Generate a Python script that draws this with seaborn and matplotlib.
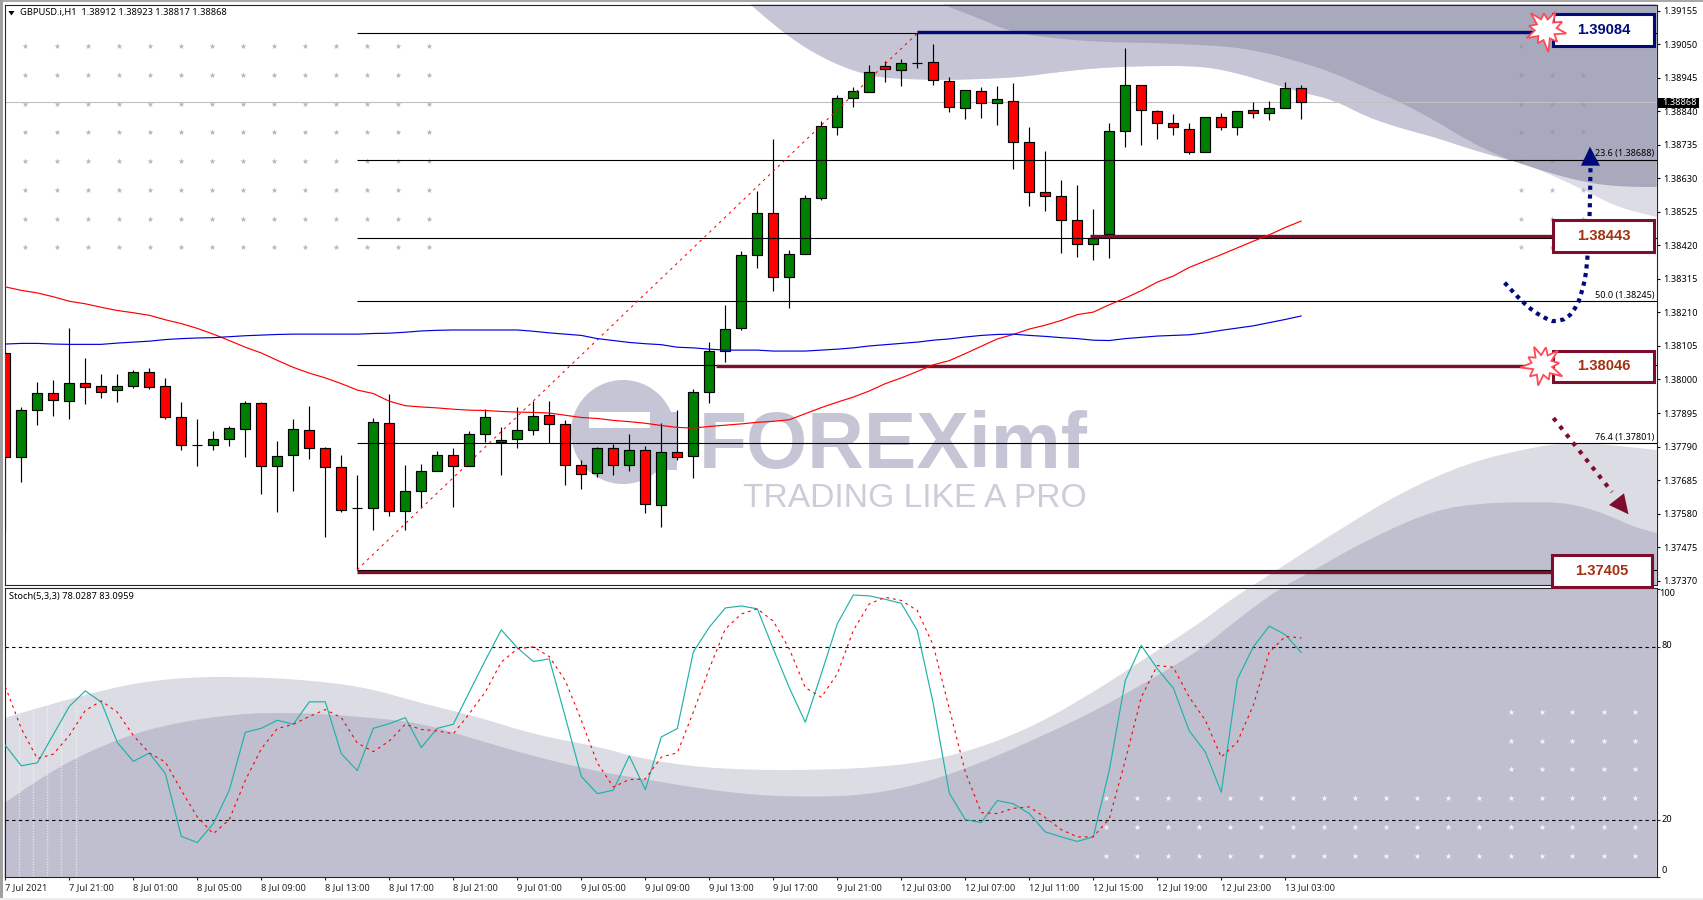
import numpy as np
import pandas as pd
import seaborn as sns
import matplotlib
matplotlib.use("Agg")
import matplotlib.pyplot as plt
from matplotlib.patches import Polygon, Rectangle, Circle

# ---------- values (prices in 1e-5 points) ----------
open_pts = [138083,137757,137904,137958,137933,137989,137979,137967,137979,138023,
            137979,137883,137795,137795,137814,137845,137926,137729,137764,137842,
            137786,137726,137597,137598,137864,137588,137651,137714,137764,137729,
            137829,137803,137814,137842,137889,137861,137732,137707,137786,137732,
            137779,137607,137773,137761,137961,138089,138161,138389,138521,138321,
            138393,138567,138790,138880,138900,138981,138968,138990,138994,138934,
            138850,138903,138865,138871,138743,138587,138574,138499,138424,138455,
            138778,138922,138840,138803,138784,138712,138822,138790,138843,138833,
            138850,138912]
high_pts = [138086,137914,137993,137998,138162,138068,138018,138018,138030,138037,
            138005,137930,137877,137840,137854,137934,137929,137808,137877,137918,
            137790,137765,137702,137879,137954,137733,137735,137777,137787,137839,
            137908,137851,137914,137933,137934,137874,137749,137789,137799,137830,
            137793,137864,137905,137971,138117,138234,138402,138591,138753,138406,
            138577,138809,138891,138915,138984,138997,139003,139084,139051,138947,
            138906,138915,138919,138929,138791,138716,138625,138610,138535,138803,
            139038,138922,138844,138832,138803,138822,138834,138840,138868,138871,
            138931,138923]
low_pts = [137525,137678,137859,137887,137875,137924,137943,137928,137972,137969,
           137875,137778,137730,137778,137793,137758,137643,137584,137652,137752,
           137508,137586,137405,137530,137574,137530,137602,137713,137602,137728,
           137805,137702,137787,137827,137801,137671,137658,137694,137702,137715,
           137583,137539,137749,137693,137927,138054,138156,138348,138278,138223,
           138392,138561,138766,138854,138899,138930,138919,138976,138923,138836,
           138816,138819,138797,138660,138544,138528,138397,138385,138375,138381,
           138729,138735,138754,138766,138707,138711,138782,138766,138819,138813,
           138850,138817]
close_pts = [137757,137904,137958,137936,137989,137978,137961,137979,138023,137978,
             137883,137794,137795,137814,137848,137926,137729,137761,137845,137786,
             137726,137592,137597,137867,137588,137651,137714,137764,137729,137829,
             137883,137811,137842,137886,137861,137732,137704,137786,137732,137779,
             137610,137773,137757,137961,138089,138158,138390,138521,138321,138393,
             138568,138793,138881,138903,138962,138972,138990,138990,138937,138853,
             138906,138865,138878,138743,138587,138574,138499,138424,138443,138778,
             138922,138843,138803,138790,138712,138822,138790,138840,138833,138850,
             138912,138868]
ma_red_pts = [138290,138279,138271,138259,138245,138237,138226,138216,138209,138201,
              138187,138175,138160,138142,138122,138101,138083,138060,138038,138020,
              138005,137987,137967,137956,137932,137918,137914,137911,137907,137904,
              137903,137900,137898,137897,137895,137888,137881,137878,137872,137868,
              137863,137856,137850,137848,137853,137857,137861,137866,137869,137874,
              137893,137912,137929,137945,137964,137987,138005,138025,138046,138059,
              138081,138104,138127,138141,138158,138170,138185,138203,138211,138234,
              138255,138278,138305,138324,138351,138371,138391,138412,138433,138453,
              138476,138496]
ma_blue_pts = [138111,138113,138113,138111,138110,138110,138110,138114,138117,138120,
               138125,138128,138130,138131,138134,138137,138139,138141,138142,138142,
               138142,138142,138142,138144,138145,138148,138152,138154,138155,138155,
               138155,138155,138155,138151,138146,138142,138138,138128,138122,138116,
               138112,138109,138101,138099,138095,138092,138092,138092,138089,138089,
               138089,138092,138095,138099,138105,138109,138113,138117,138123,138127,
               138133,138138,138141,138142,138138,138135,138131,138128,138123,138122,
               138128,138132,138136,138138,138140,138146,138154,138161,138168,138178,
               138188,138199]
stoch_k = [45.8,38.7,39.7,49.5,59.3,64.7,60.8,46.8,40.2,43.1,36.0,14.2,12.0,18.6,30.2,
           50.3,51.7,54.5,53.1,60.9,60.9,42.9,37.0,51.7,53.3,55.4,45.0,51.7,53.1,64.3,
           75.3,85.9,79.7,74.9,75.8,55.6,35.0,29.0,30.2,42.1,30.4,48.7,51.6,78.2,86.8,
           93.5,94.2,93.2,79.3,65.8,53.8,70.6,88.0,98.0,97.7,96.5,95.1,85.7,60.2,29.2,
           20.0,19.0,26.6,25.5,22.1,15.7,14.0,12.4,14.0,37.1,68.3,80.5,72.4,65.7,50.8,
           43.5,29.5,68.7,80.0,87.2,84.2,78.0]
stoch_d = [66.2,51.6,41.2,42.7,49.2,57.9,61.2,57.3,49.2,43.1,40.0,30.2,20.9,15.1,20.0,
           33.6,44.6,51.6,53.1,55.8,58.2,55.4,46.6,43.6,47.3,53.1,51.3,50.8,49.8,56.8,
           64.3,74.7,79.3,80.0,76.6,68.3,54.5,39.7,31.3,33.9,34.1,41.7,43.2,57.3,72.4,
           86.2,91.4,93.2,88.9,79.3,65.8,62.5,70.6,85.7,94.9,97.2,96.1,92.6,80.5,58.5,
           36.5,22.4,22.1,23.9,24.4,20.7,16.5,14.0,14.0,20.3,40.6,62.5,73.5,72.9,62.5,
           54.5,41.7,46.9,59.7,78.2,83.6,83.1]

price_ticks = ["1.39155","1.39050","1.38945","1.38840","1.38735","1.38630","1.38525",
               "1.38420","1.38315","1.38210","1.38105","1.38000","1.37895","1.37790",
               "1.37685","1.37580","1.37475","1.37370"]
time_tick_bars = [0,4,8,12,16,20,24,28,32,36,40,44,48,52,56,60,64,68,72,76,80]
time_tick_labels = ["7 Jul 2021","7 Jul 21:00","8 Jul 01:00","8 Jul 05:00","8 Jul 09:00",
                    "8 Jul 13:00","8 Jul 17:00","8 Jul 21:00","9 Jul 01:00","9 Jul 05:00",
                    "9 Jul 09:00","9 Jul 13:00","9 Jul 17:00","9 Jul 21:00","12 Jul 03:00",
                    "12 Jul 07:00","12 Jul 11:00","12 Jul 15:00","12 Jul 19:00","12 Jul 23:00",
                    "13 Jul 03:00"]
fib_levels = [1.39084,1.38688,1.38443,1.38245,1.38045,1.37801,1.37405]
fib_labels = {"23.6":1.38688,"50.0":1.38245,"76.4":1.37801}
key_levels = [("1.39084",1.39089,"navy"),("1.38443",1.38448,"red"),
              ("1.38046",1.38042,"red"),("1.37405",1.37398,"red")]

PT = 1e-5
df = pd.DataFrame({"bar":np.arange(len(open_pts)),
                   "open":np.array(open_pts)*PT,"high":np.array(high_pts)*PT,
                   "low":np.array(low_pts)*PT,"close":np.array(close_pts)*PT,
                   "ma_red":np.array(ma_red_pts)*PT,"ma_blue":np.array(ma_blue_pts)*PT,
                   "k":stoch_k,"d":stoch_d})

# ---------- styling ----------
sns.set_theme(style="white")
plt.rcParams["font.family"] = ["Noto Sans","DejaVu Sans"]
plt.rcParams["axes.linewidth"] = 0.8
W,H = 1703,900
L,R = 4.6,1656.6
T1,B1 = 4.5,585.2
T2,B2 = 587.8,877.3
NAVY="#000a78"; MAROON="#7d0e2c"; MID="#c5c5d5"; LIGHT="#dcdce4"; DARK="#a9a9bd"; LOW="#bfbfcf"
fig = plt.figure(figsize=(W/100,H/100),dpi=100,facecolor="white")
def rect(t,b): return [L/W,1-b/H,(R-L)/W,(b-t)/H]

bg = fig.add_axes([0,0,1,1],zorder=0); bg.set_xlim(0,W); bg.set_ylim(H,0); bg.axis("off")
ax = fig.add_axes(rect(T1,B1),zorder=1); ax.patch.set_visible(False)
ax2 = fig.add_axes(rect(T2,B2),zorder=1); ax2.patch.set_visible(False)
top = fig.add_axes([0,0,1,1],zorder=5); top.set_xlim(0,W); top.set_ylim(H,0); top.axis("off")

# ---------- decorative watermark artwork, in figure pixels ----------
def smooth(pts,n=2):
    p=np.array(pts,float)
    for _ in range(n):
        q=[p[0]]
        for a,b in zip(p[:-1],p[1:]):
            q+= [0.75*a+0.25*b,0.25*a+0.75*b]
        q.append(p[-1]); p=np.array(q)
    return p
band_edge=[(751,5),(772,23),(791,38),(814,53),(845,68),(876,77),(902,79),(944,80),(983,79),(1021,77),
 (1059,72),(1097,68),(1143,66),(1200,66),(1233,72),(1267,82),(1300,92),(1334,100),(1367,117),(1400,128),
 (1434,137),(1467,148),(1501,158),(1521,163),(1547,173),(1584,190),(1617,207),(R,217)]
dark_edge=[(944,5),(983,20),(1006,30),(1040,37),(1097,42),(1155,43),(1200,45),(1233,47),(1267,53),(1300,62),
 (1334,73),(1367,88),(1400,102),(1434,120),(1467,140),(1501,157),(1534,168),(1567,178),(1601,185),(1634,187),(R,187)]
lo_light=[(L,718),(38,708),(77,697),(134,683),(191,677),(249,677),(306,680),(364,687),(421,703),(478,717),
 (536,735),(600,747),(638,758),(696,767),(753,770),(810,770),(868,768),(925,762),(983,747),(1040,723),
 (1097,690),(1155,652),(1200,623),(1230,600),(1277,570),(1334,533),(1400,493),(1467,463),(1534,447),
 (1567,443),(1601,444),(R,450)]
lo_dark=[(L,803),(38,780),(77,757),(134,733),(191,720),(249,713),(306,713),(364,717),(421,723),(478,740),
 (536,757),(600,772),(638,778),(696,788),(753,795),(810,797),(868,795),(925,783),(983,762),(1040,737),
 (1097,710),(1155,677),(1200,650),(1233,623),(1277,590),(1314,570),(1367,540),(1434,510),(1484,503),
 (1534,502),(1567,503),(1601,512),(1634,527),(R,533)]
def poly(edge,close,color,z):
    bg.add_patch(Polygon(np.vstack([smooth(edge),close]),closed=True,fc=color,ec="none",zorder=z))
poly(band_edge,[(R,T1),(751,T1)],LIGHT,1)
poly(band_edge[:24],[(R,163),(R,T1),(751,T1)],MID,1.1)
poly(dark_edge,[(R,T1),(944,T1)],DARK,1.2)
poly(lo_light,[(R,B2),(L,B2)],LIGHT,1)
poly(lo_dark,[(R,B2),(L,B2)],LOW,1.1)
bg.add_patch(Rectangle((0,585.2),W,2.6,fc="white",ec="none",zorder=1.25))
for sx in [19,33,47,61,76]:
    bg.plot([sx,sx],[705,B2],color="white",lw=1,alpha=0.55,ls=(0,(1,1)),zorder=1.3)

gx=np.array([25.3,56.6,87.6,118.6,149.6,181,211.6,242.6,274,305,336,367,398.4,429.4])
gy=np.array([46,74.7,103.7,132.3,161,189.7,218.7,247.3])
xx,yy=np.meshgrid(gx,gy)
bg.scatter(xx.ravel(),yy.ravel(),marker="*",s=20,c="#b4b4c8",linewidths=0,zorder=2)
rx=np.array([1520.6,1551.7,1582.8]); ry=gy
xx,yy=np.meshgrid(rx,ry); keep=~((yy<50)&(xx>1570))
bg.scatter(xx[keep],yy[keep],marker="*",s=20,c="#8f8fa6",alpha=0.6,linewidths=0,zorder=2)
wx=np.array([1106,1137,1168,1199,1230,1261,1292.5,1323.6,1354.6,1385.7,1417,1448,1479,1510.6,1541.7,1572.4,1603.5,1634.5])
xx,yy=np.meshgrid(wx,[798,827,855.7])
bg.scatter(xx.ravel(),yy.ravel(),marker="*",s=22,c="#f4f4f8",linewidths=0,zorder=2)
xx,yy=np.meshgrid(wx[-5:],[711.7,740.7,769.3])
bg.scatter(xx.ravel(),yy.ravel(),marker="*",s=22,c="#f4f4f8",linewidths=0,zorder=2)

bg.add_patch(Circle((623,432),52,fc=MID,ec="none",zorder=2))
bg.add_patch(Rectangle((589,412),61,16,fc="white",ec="none",zorder=2.1))
bg.add_patch(Rectangle((620,428),40,10,fc=MID,ec="none",zorder=2.2))
bg.add_patch(Rectangle((655,412),22,58,fc=MID,ec="none",zorder=2.2))
bg.text(699,468,"FOREXimf",fontsize=56.6,fontweight="bold",family="Liberation Sans",color=MID,va="baseline",ha="left",zorder=2)
bg.text(743,507,"TRADING LIKE A PRO",fontsize=24.2,family="Liberation Sans",color="#cdcdda",va="baseline",ha="left",zorder=2)

bg.add_patch(Rectangle((0,0),W,2.2,fc="#a8a8a8",ec="none",zorder=3))
bg.add_patch(Rectangle((0,0),2.8,H,fc="#a0a0a0",ec="none",zorder=3))
bg.add_patch(Rectangle((0,897.5),W,2.5,fc="#eeeeee",ec="none",zorder=3))

# ---------- candles ----------
up = df[df.close>=df.open]; dn = df[df.close<df.open]
BW = 0.63
ax.vlines(df.bar,df.low,df.high,color="black",lw=0.85,zorder=2)
ax.bar(up.bar,up.close-up.open,bottom=up.open,width=BW,color="#008000",edgecolor="black",linewidth=0.85,zorder=3)
ax.bar(dn.bar,dn.open-dn.close,bottom=dn.close,width=BW,color="#ff0000",edgecolor="black",linewidth=0.85,zorder=3)

ax.axhline(1.38868,color="#c0c0c0",lw=0.8,zorder=1)
fib_start = (357.4-5.3)/16
for lv in fib_levels:
    ax.hlines(lv,fib_start,110,color="black",lw=0.8,zorder=4)
ax.plot([22,57],[1.37405,1.39084],color="#ff0000",lw=0.75,ls=(0,(2.5,4)),zorder=4)
for name,lv,c in key_levels:
    start={"1.39084":57,"1.38443":67.8,"1.38046":44.4,"1.37405":22}[name]
    ax.hlines(lv,start,100,color=NAVY if c=="navy" else MAROON,lw=2.4,zorder=4.5)
sns.lineplot(data=df,x="bar",y="ma_red",ax=ax,color="#ff0000",linewidth=0.85,zorder=5,legend=False,errorbar=None)
sns.lineplot(data=df,x="bar",y="ma_blue",ax=ax,color="#0000dd",linewidth=0.85,zorder=5,legend=False,errorbar=None)

ax.set_xlim((L-5.3)/16,(R-5.3)/16)
ax.set_ylim(1.37356,1.39174)
ax.set_xlabel(""); ax.set_ylabel("")
ax.set_xticks([])
ax.yaxis.tick_right()
ax.set_yticks([float(v) for v in price_ticks]); ax.set_yticklabels(price_ticks)
ax.tick_params(axis="y",right=True,length=2.5,width=0.8,pad=2.5,labelsize=6.6,colors="black")
for lab,lv in fib_labels.items():
    ax.text((1654-5.3)/16,lv+0.00004,f"{lab} ({lv:.5f})",ha="right",va="bottom",fontsize=6.5,color="black",zorder=4)

# ---------- stochastic ----------
sns.lineplot(data=df,x="bar",y="k",ax=ax2,color="#20b2aa",linewidth=0.85,zorder=3,legend=False,errorbar=None)
sns.lineplot(data=df,x="bar",y="d",ax=ax2,color="#ff0000",linewidth=0.8,linestyle=(0,(2.5,3.5)),zorder=3,legend=False,errorbar=None)
for lv in (80,20):
    ax2.axhline(lv,color="black",lw=0.8,ls=(0,(3,3)),zorder=2)
ax2.set_xlim((L-5.3)/16,(R-5.3)/16)
ax2.set_ylim(-0.05,100.5)
ax2.set_xlabel(""); ax2.set_ylabel("")
ax2.yaxis.tick_right()
ax2.set_yticks([100,80,20,0]); ax2.set_yticklabels(["","","",""])
ax2.tick_params(axis="y",right=True,length=2.5,width=0.8)
ax2.set_xticks(time_tick_bars); ax2.set_xticklabels(time_tick_labels,ha="left")
ax2.tick_params(axis="x",bottom=True,length=2.5,width=0.8,pad=1.5,labelsize=6.7)

# ---------- overlay: labels, boxes, arrows ----------
TK=dict(fontsize=6.6,color="black",va="center",ha="left")
top.text(1659,594,"100",**TK); top.text(1661,646,"80",**TK); top.text(1661,819,"20",**TK); top.text(1661,870.5,"0",**TK)
top.add_patch(Polygon([(8.4,11),(14.5,11),(11.4,15.5)],closed=True,fc="black",ec="none"))
top.text(20,12.7,"GBPUSD.i,H1  1.38912 1.38923 1.38817 1.38868",fontsize=6.7,color="black",va="center",ha="left")
top.text(9,596.7,"Stoch(5,3,3) 78.0287 83.0959",fontsize=6.7,color="black",va="center",ha="left")
top.add_patch(Rectangle((1658,97.5),41,10,fc="black",ec="none",zorder=3))
top.text(1662,102.5,"1.38868",fontsize=6.6,color="white",va="center",ha="left",zorder=4)

def star(cx,cy,rad,z=6):
    n=len(rad); ang=np.linspace(0,2*np.pi,n,endpoint=False)+0.2
    pts=[(cx+r*np.cos(a),cy+r*np.sin(a)) for r,a in zip(rad,ang)]
    top.add_patch(Polygon(pts,closed=True,fc="white",ec="#ff4a55",lw=1.3,zorder=z))
spikes=[21,10,17,10,23,11,16,10,21,11,17,10,22,11,16,10,20,10,18,11]
star(1545.7,29.3,spikes); star(1542.3,365,spikes[3:]+spikes[:3])

# curved blue path and straight maroon path
curve=smooth([(1504.6,282.7),(1520.6,300),(1534,311.7),(1547.4,319.3),(1554,321.7),(1567.4,318.5),(1577.4,305),
       (1582.4,290),(1585.8,275),(1587.4,258),(1589,235),(1590,200),(1590.5,166)],1)
top.plot(curve[:,0],curve[:,1],color=NAVY,lw=3,ls=(0,(1,1.1)),zorder=3)
top.add_patch(Polygon([(1590,146.7),(1581,165.7),(1600,165.7)],closed=True,fc=NAVY,ec="none",zorder=4))
top.plot([1553.4,1612],[418,492],color=MAROON,lw=3,ls=(0,(1,1.5)),zorder=3)
top.add_patch(Polygon([(1609,505),(1624,493.3),(1628.5,514.3)],closed=True,fc=MAROON,ec="none",zorder=4))

boxes=[("1.39084",1553,14,NAVY,NAVY),("1.38443",1553,220,MAROON,"#a3300f"),
       ("1.38046",1553,350.5,MAROON,"#a3300f"),("1.37405",1551.5,555,MAROON,"#a3300f")]
for txt,bx,by,ec,tc in boxes:
    top.add_patch(Rectangle((bx,by),100.5,31.5,fc="white",ec=ec,lw=2.2,zorder=5))
    top.text(bx+50.5,by+15.8,txt,fontsize=10.6,fontweight="bold",family="Liberation Sans",color=tc,ha="center",va="center",zorder=7)

fig.savefig("out.png",dpi=100,facecolor="white")
